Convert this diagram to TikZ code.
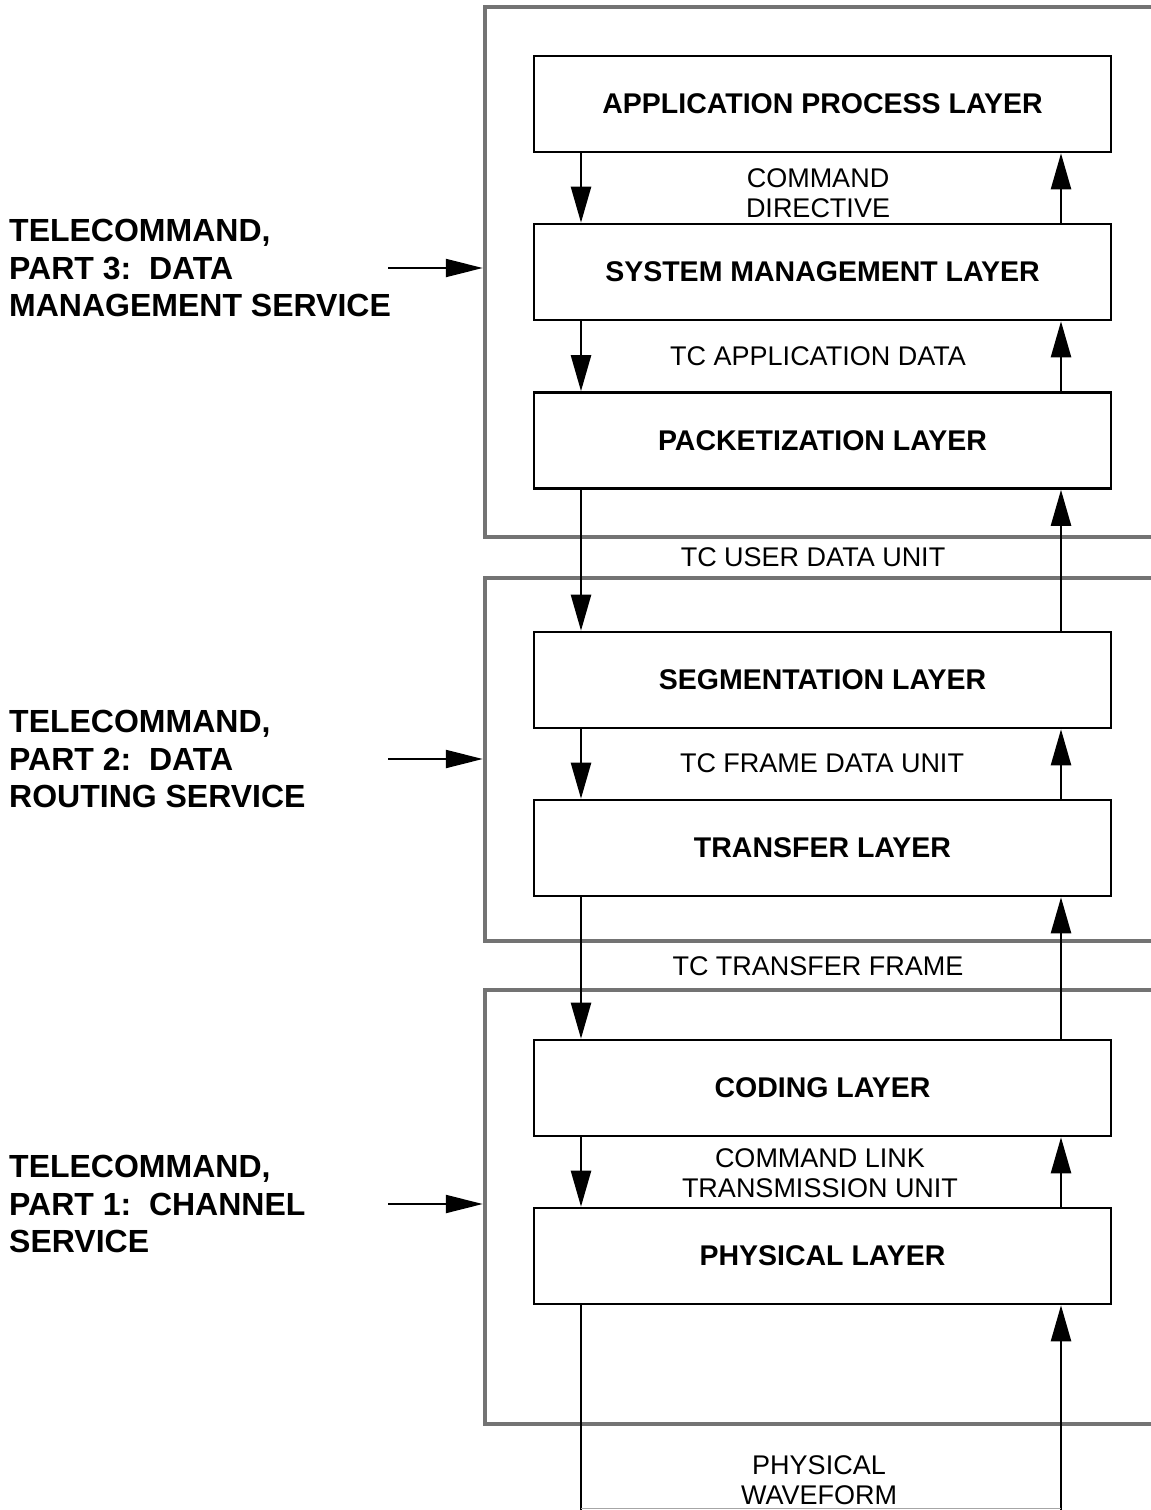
\documentclass[tikz,border=0pt]{standalone}
\usepackage{fontspec}
\setmainfont{Liberation Sans}
\usetikzlibrary{arrows.meta}
\begin{document}
\begin{tikzpicture}[x=1pt,y=-1pt,
  layer/.style={draw, line width=2.6pt, minimum width=577pt, minimum height=96pt, inner sep=0pt, font=\fontsize{28.5}{33}\selectfont\bfseries},
  grp/.style={draw=black!55, line width=4.5pt, inner sep=0pt},
  lbl/.style={font=\fontsize{27}{30}\selectfont, align=center, inner sep=0pt},
  side/.style={font=\fontsize{32}{37.5}\selectfont\bfseries, align=left, anchor=west, inner sep=0pt},
  flow/.style={line width=2.4pt, -{Triangle[length=36pt,width=20pt]}},
  sideflow/.style={line width=2.2pt, -{Triangle[length=37pt,width=18pt]}},
  plainline/.style={line width=2.4pt}]
\useasboundingbox (0,0) rectangle (1151,1510);
\clip (0,0) rectangle (1151,1510);
\fill[white] (0,0) rectangle (1151,1510);

% group frames
\node[grp, minimum width=685pt, minimum height=530pt] (g1) at (827.5,272) {};
\node[grp, minimum width=685pt, minimum height=363pt] (g2) at (827.5,759.5) {};
\node[grp, minimum width=685pt, minimum height=434pt] (g3) at (827.5,1207) {};

% layers
\node[layer] (app)  at (822.5,104)   {APPLICATION PROCESS LAYER};
\node[layer] (sys)  at (822.5,272)   {SYSTEM MANAGEMENT LAYER};
\node[layer] (pack) at (822.5,440.5) {PACKETIZATION LAYER};
\node[layer] (seg)  at (822.5,680)   {SEGMENTATION LAYER};
\node[layer] (trans) at (822.5,848)  {TRANSFER LAYER};
\node[layer] (cod)  at (822.5,1088)  {CODING LAYER};
\node[layer] (phys) at (822.5,1256)  {PHYSICAL LAYER};

% interface labels
\node[lbl] (l1) at (818,193)   {COMMAND\\DIRECTIVE};
\node[lbl] (l2) at (818,356)   {TC APPLICATION DATA};
\node[lbl] (l3) at (813,557)   {TC USER DATA UNIT};
\node[lbl] (l4) at (822,763)   {TC FRAME DATA UNIT};
\node[lbl] (l5) at (818,966)   {TC TRANSFER FRAME};
\node[lbl] (l6) at (820,1173.5) {COMMAND LINK\\TRANSMISSION UNIT};
\node[lbl] (l7) at (819,1480)  {PHYSICAL\\WAVEFORM};

% vertical flows
\coordinate (L) at (581,0);
\coordinate (R) at (1061,0);
\coordinate (bot) at (0,1512);
\draw[flow] (app.south -| L) -- (sys.north -| L);
\draw[flow] (sys.north -| R) -- (app.south -| R);
\draw[flow] (sys.south -| L) -- (pack.north -| L);
\draw[flow] (pack.north -| R) -- (sys.south -| R);
\draw[flow] (pack.south -| L) -- (seg.north -| L);
\draw[flow] (seg.north -| R) -- (pack.south -| R);
\draw[flow] (seg.south -| L) -- (trans.north -| L);
\draw[flow] (trans.north -| R) -- (seg.south -| R);
\draw[flow] (trans.south -| L) -- (cod.north -| L);
\draw[flow] (cod.north -| R) -- (trans.south -| R);
\draw[flow] (cod.south -| L) -- (phys.north -| L);
\draw[flow] (phys.north -| R) -- (cod.south -| R);
\draw[plainline] (phys.south -| L) -- (bot -| L);
\draw[flow] (bot -| R) -- (phys.south -| R);
\coordinate (bl) at (581,1508.5);
\coordinate (br) at (1061,1508.5);
\draw[black!35, line width=1pt] (bl) -- (br);

% side labels
\node[side] (s3) at (9,268)  {TELECOMMAND,\\PART 3:\ \ DATA\\MANAGEMENT SERVICE};
\node[side] (s2) at (9,759)  {TELECOMMAND,\\PART 2:\ \ DATA\\ROUTING SERVICE};
\node[side] (s1) at (9,1204) {TELECOMMAND,\\PART 1:\ \ CHANNEL\\SERVICE};
\coordinate (a3) at (388,268);
\coordinate (a2) at (388,759);
\coordinate (a1) at (388,1204);
\draw[sideflow] (a3) -- (g1.west |- a3);
\draw[sideflow] (a2) -- (g2.west |- a2);
\draw[sideflow] (a1) -- (g3.west |- a1);
\end{tikzpicture}
\end{document}
